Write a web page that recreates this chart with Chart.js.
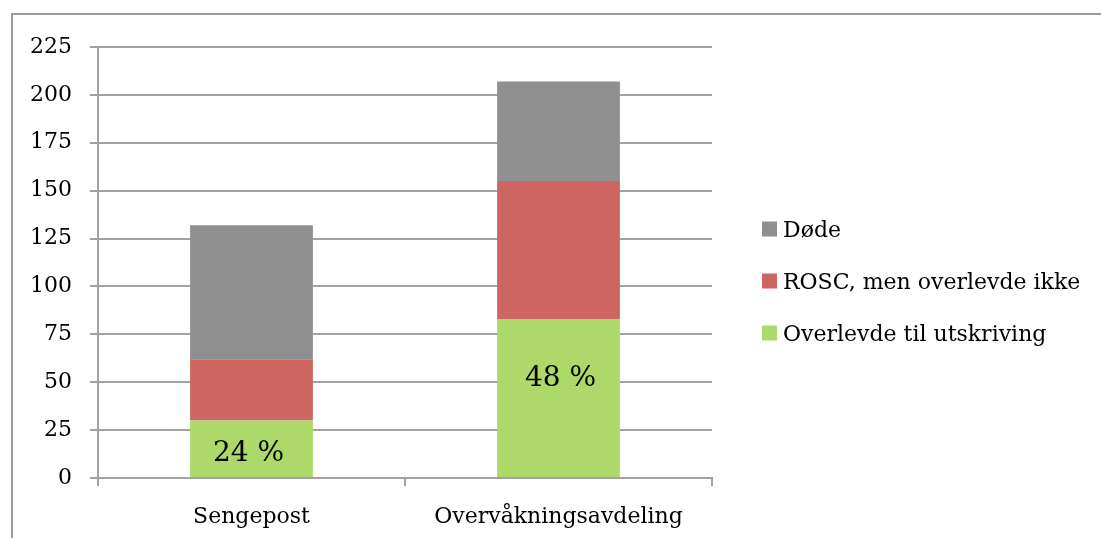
<!DOCTYPE html>
<html>
<head>
<meta charset="utf-8">
<script src="https://cdn.jsdelivr.net/npm/chart.js@4/dist/chart.umd.min.js"></script>
<style>
  html, body { margin: 0; padding: 0; background: #fff; overflow: hidden; }
  #frame {
    position: absolute; left: 11px; top: 13px; width: 1200px; height: 700px;
    border-left: 2px solid #9b9b9b; border-top: 2px solid #9b9b9b;
  }
  #c { position: absolute; left: 0; top: 0; }
</style>
</head>
<body>
<div id="frame"></div>
<canvas id="c" width="1101" height="538"></canvas>
<script>
// Avdelinger
const categories = ['Sengepost', 'Overvåkningsavdeling'];

// Antall pasienter per utfall (stablet nedenfra og opp)
const overlevde = [30, 83];
const roscIkkeOverlevd = [32, 72];
const dode = [70, 52];

// Tekst i den grønne delen av hver søyle
const overlevdeTekst = ['24 %', '48 %'];

// Akseinndeling
const yMin = 0;
const yMax = 225;
const yStep = 25;

const FONT = 'DejaVu Serif';
const GRID = '#a2a2a2';

const inBarText = {
  id: 'inBarText',
  afterDatasetsDraw(chart, args, opts) {
    const ctx = chart.ctx;
    const meta = chart.getDatasetMeta(0);
    ctx.save();
    ctx.font = `${opts.size}px "${FONT}"`;
    ctx.fillStyle = '#000';
    ctx.textAlign = 'center';
    ctx.textBaseline = 'middle';
    meta.data.forEach((bar, i) => {
      const cy = (bar.y + bar.base) / 2 + opts.dy[i];
      ctx.fillText(overlevdeTekst[i], bar.x + opts.dx[i], cy);
    });
    ctx.restore();
  }
};

const sideLegend = {
  id: 'sideLegend',
  afterDraw(chart, args, opts) {
    const ctx = chart.ctx;
    const sets = chart.data.datasets.slice().reverse();
    ctx.save();
    ctx.font = `${opts.size}px "${FONT}"`;
    ctx.textBaseline = 'middle';
    ctx.textAlign = 'left';
    sets.forEach((ds, k) => {
      const cy = opts.y + k * opts.gap;
      ctx.fillStyle = ds.backgroundColor;
      ctx.fillRect(opts.x, cy - opts.box / 2, opts.box, opts.box);
      ctx.fillStyle = '#000';
      ctx.fillText(ds.label, opts.x + opts.box + 6, cy + 2);
    });
    ctx.restore();
  }
};

new Chart(document.getElementById('c'), {
  type: 'bar',
  data: {
    labels: categories,
    datasets: [
      { label: 'Overlevde til utskriving', data: overlevde, backgroundColor: '#acd96a' },
      { label: 'ROSC, men overlevde ikke', data: roscIkkeOverlevd, backgroundColor: '#cd6660' },
      { label: 'Døde', data: dode, backgroundColor: '#8f8f8f' }
    ]
  },
  options: {
    responsive: false,
    animation: false,
    events: [],
    datasets: { bar: { categoryPercentage: 1, barPercentage: 0.4, borderWidth: 0 } },
    layout: { padding: { left: 0, top: 47, right: 389, bottom: 0 } },
    plugins: {
      legend: { display: false },
      tooltip: { enabled: false },
      inBarText: { size: 28, dx: [-3, 2], dy: [5, -19] },
      sideLegend: { x: 762, y: 229, gap: 52, box: 15, size: 22 }
    },
    scales: {
      x: {
        stacked: true,
        grid: { offset: true, drawOnChartArea: false, drawTicks: true, tickLength: 8, color: GRID, lineWidth: 2 },
        border: { color: GRID, width: 2 },
        ticks: { font: { family: FONT, size: 22 }, color: '#000', padding: 18, maxRotation: 0 },
        afterFit(s) { s.height = 60; }
      },
      y: {
        stacked: true,
        min: yMin,
        max: yMax,
        grid: { color: GRID, lineWidth: 2, tickLength: 8 },
        border: { color: GRID, width: 2 },
        ticks: { stepSize: yStep, font: { family: FONT, size: 22 }, color: '#000', padding: 18 },
        afterFit(s) { s.width = 98; }
      }
    }
  },
  plugins: [inBarText, sideLegend]
});
</script>
</body>
</html>
